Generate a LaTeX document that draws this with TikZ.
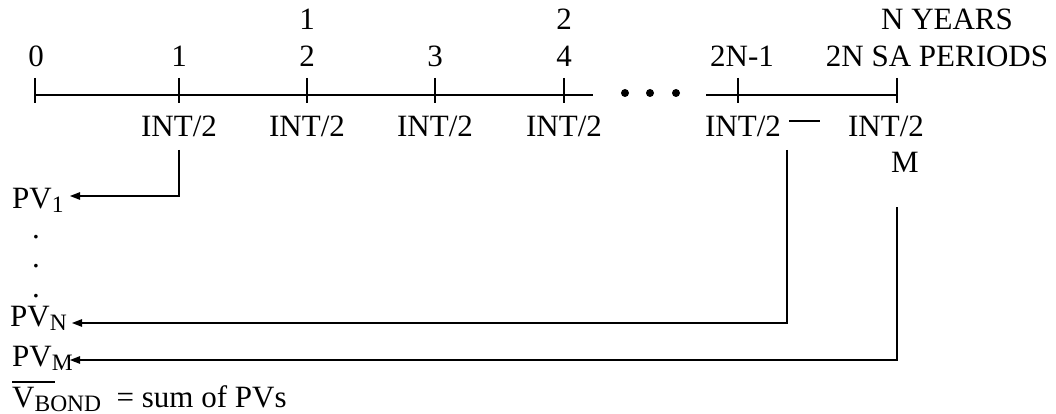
\documentclass[tikz,border=0pt]{standalone}
\usepackage{fontspec}
\setmainfont{Liberation Serif}
\usetikzlibrary{arrows.meta}
\newcommand{\sbt}[1]{\raisebox{-4pt}{\fontsize{23.5}{23.5}\selectfont #1}}
\begin{document}
\begin{tikzpicture}[x=1pt,y=-1pt,
  lbl/.style={anchor=base, inner sep=0pt, font=\fontsize{31}{31}\selectfont},
  lblw/.style={anchor=base west, inner sep=0pt, font=\fontsize{31}{31}\selectfont},
  axis/.style={line width=1.2pt},
  conn/.style={line width=1.2pt, -{Triangle[length=10pt,width=7.5pt]}},
  dotmark/.style={circle, fill=black, inner sep=0pt, minimum size=8pt}]
\useasboundingbox (0,0) rectangle (1056,414);
% timeline
\coordinate (s0) at (35,95);
\coordinate (s1) at (593,95);
\coordinate (s2) at (706,95);
\coordinate (s3) at (897,95);
\draw[axis] (s0) -- (s1);
\draw[axis] (s2) -- (s3);
\foreach \x/\n in {35/t0,179/t1,307/t2,435/t3,564/t4,738/t5,897/t6}{
  \coordinate (\n a) at (\x,78);
  \coordinate (\n b) at (\x,103);
  \draw[axis] (\n a) -- (\n b);
}
\node[dotmark] (d1) at (625,93) {};
\node[dotmark] (d2) at (650,93) {};
\node[dotmark] (d3) at (676,93) {};
% top labels
\node[lbl] (y1) at (307,30) {1};
\node[lbl] (y2) at (564,30) {2};
\node[lbl] (yN) at (947,30) {N YEARS};
\node[lbl] (p0) at (36,67) {0};
\node[lbl] (p1) at (179,67) {1};
\node[lbl] (p2) at (307,67) {2};
\node[lbl] (p3) at (435,67) {3};
\node[lbl] (p4) at (564,67) {4};
\node[lbl] (p5) at (742,67) {2N-1};
\node[lbl] (p6) at (937,67) {2N SA PERIODS};
% bottom labels
\node[lbl] (i1) at (179,137) {INT/2};
\node[lbl] (i2) at (307,137) {INT/2};
\node[lbl] (i3) at (435,137) {INT/2};
\node[lbl] (i4) at (564,137) {INT/2};
\node[lbl] (i5) at (743,137) {INT/2};
\node[lbl] (i6) at (886,137) {INT/2};
\coordinate (da) at (789,121);
\coordinate (db) at (820,121);
\draw[axis] (da) -- (db);
\node[lbl] (m) at (905,172) {M};
% present values
\node[lblw] (pv1) at (12,208) {PV\sbt{1}};
\node[lbl] (e1) at (36,238) {.};
\node[lbl] (e2) at (36,267) {.};
\node[lbl] (e3) at (36,297) {.};
\node[lblw] (pvn) at (10,326) {PV\sbt{N}};
\node[lblw] (pvm) at (12,366) {PV\sbt{M}};
\node[lblw] (vb) at (12,407) {V\sbt{BOND}\ \ = sum of PVs};
\coordinate (ol1) at (12,382);
\coordinate (ol2) at (55,382);
\draw[axis] (ol1) -- (ol2);
% connectors
\coordinate (c1) at (179,150);
\coordinate (c1b) at (179,196);
\coordinate (tip1) at (70,196);
\coordinate (cn) at (787,150);
\coordinate (cnb) at (787,323);
\coordinate (tipn) at (72,323);
\coordinate (cm) at (897,207);
\coordinate (cmb) at (897,360);
\coordinate (tipm) at (70,360);
\draw[conn] (c1) -- (c1b) -- (tip1);
\draw[conn] (cn) -- (cnb) -- (tipn);
\draw[conn] (cm) -- (cmb) -- (tipm);
\end{tikzpicture}
\end{document}
